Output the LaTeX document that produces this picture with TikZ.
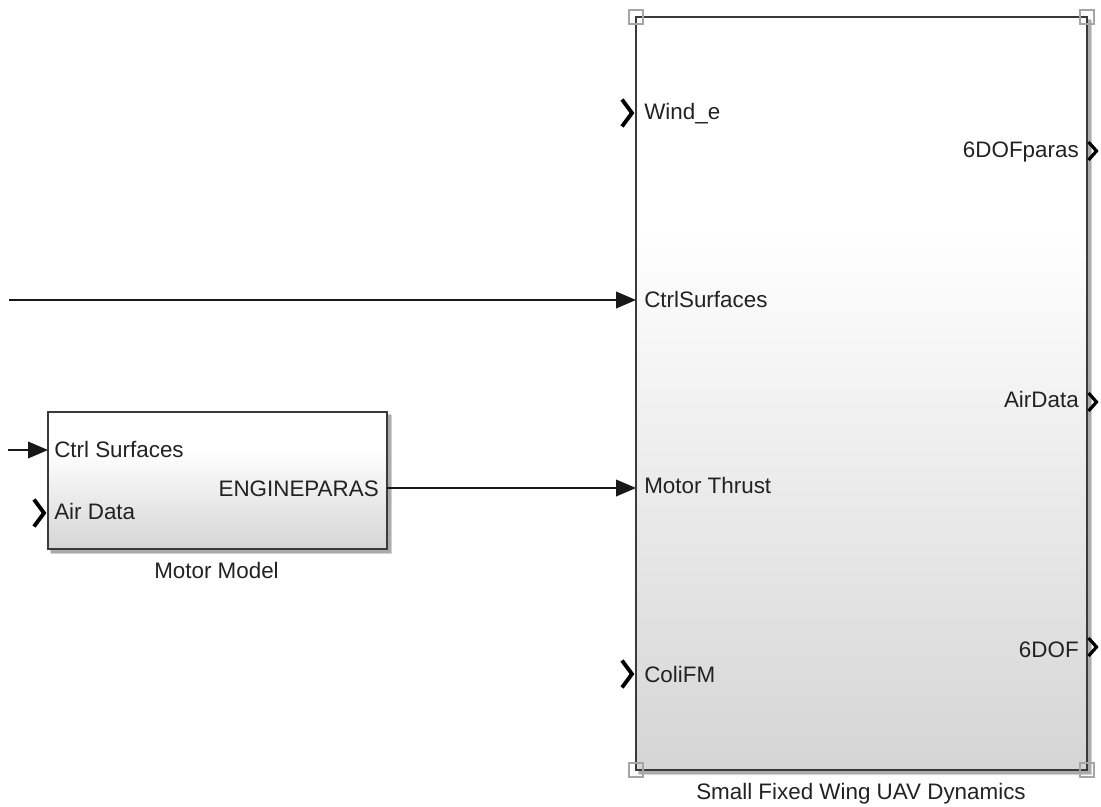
\documentclass[tikz,border=0pt]{standalone}
\usepackage{fontspec}
\setmainfont{Liberation Sans}
\usetikzlibrary{arrows.meta,backgrounds}

\definecolor{blkbot}{RGB}{213,213,213}
\definecolor{labeltext}{RGB}{34,34,34}
\definecolor{blkedge}{RGB}{58,58,58}
\definecolor{wire}{RGB}{24,24,24}
\definecolor{handlegray}{RGB}{165,165,165}

% white upper part, fading to light grey towards the bottom
\pgfdeclareverticalshading{blkshade}{100bp}{color(0bp)=(blkbot); color(25bp)=(blkbot); color(61bp)=(white); color(100bp)=(white)}

\begin{document}
\begin{tikzpicture}[x=0.75pt,y=-0.75pt,
  font=\fontsize{16.8}{19}\selectfont,
  block/.style={draw=blkedge, line width=1.5pt, shading=blkshade, shade,
    anchor=north west, inner sep=0pt, outer sep=0pt},
  portlbl/.style={inner sep=0pt, text=labeltext},
  inlbl/.style={portlbl, anchor=base west},
  outlbl/.style={portlbl, anchor=base east},
  caption/.style={inner sep=0pt, text=labeltext, anchor=base},
  wireline/.style={draw=wire, line width=1.3pt,
    -{Triangle[length=15pt,width=12.5pt]}},
  chevin/.style={draw=black, line width=2.9pt, line join=miter, line cap=butt},
  chevout/.style={draw=black, line width=2.4pt, line join=miter, line cap=butt},
  handle/.style={draw=handlegray, line width=1.1pt},
  shadowfill/.style={fill=black, opacity=0.18}
]
\useasboundingbox (0,0) rectangle (1101,807);

% ---- blocks ----
\node[block, minimum width=338.25pt, minimum height=564.75pt] (uav) at (636,17) {};
\node[block, minimum width=254.25pt, minimum height=102.75pt] (motor) at (48,412) {};

\begin{pgfonlayer}{background}
  \fill[shadowfill] ([shift={(1.5,1.5)}]uav.north west) rectangle ([shift={(3.5,3.5)}]uav.south east);
  \fill[shadowfill] ([shift={(2.5,2.5)}]uav.north west) rectangle ([shift={(5,5)}]uav.south east);
  \fill[shadowfill] ([shift={(1.5,1.5)}]motor.north west) rectangle ([shift={(3.5,3.5)}]motor.south east);
  \fill[shadowfill] ([shift={(2.5,2.5)}]motor.north west) rectangle ([shift={(5,5)}]motor.south east);
\end{pgfonlayer}

% selection handles on the dynamics block
\foreach \c in {north west, north east, south west, south east}
  \draw[handle] ([shift={(-7,-7)}]uav.\c) rectangle ([shift={(7,7)}]uav.\c);

% ---- port coordinates ----
\coordinate (uav-wind)   at (636,113);
\coordinate (uav-ctrl)   at (636,300);
\coordinate (uav-thrust) at (636,488);
\coordinate (uav-coli)   at (636,674);
\coordinate (uav-6dofp)  at (1087,151);
\coordinate (uav-air)    at (1087,402);
\coordinate (uav-6dof)   at (1087,647);
\coordinate (mot-ctrl)   at (48,450);
\coordinate (mot-air)    at (48,513);
\coordinate (mot-out)    at (387,488);
\coordinate (ctrl-src)   at (9,300);
\coordinate (mctrl-src)  at (8,450);

% ---- port labels ----
\node[inlbl] (l-wind)   at (644,119) {Wind\_e};
\node[inlbl] (l-ctrl)   at (644,307) {CtrlSurfaces};
\node[inlbl] (l-thrust) at (644,493) {Motor Thrust};
\node[inlbl] (l-coli)   at (644,682) {ColiFM};
\node[outlbl] (l-6dofp) at (1079,157) {6DOFparas};
\node[outlbl] (l-air)   at (1079,407) {AirData};
\node[outlbl] (l-6dof)  at (1079,657) {6DOF};
\node[inlbl] (l-mctrl)  at (54,457) {Ctrl Surfaces};
\node[inlbl] (l-mair)   at (54,519) {Air Data};
\node[outlbl] (l-mout)  at (379,496) {ENGINEPARAS};

% ---- block captions ----
\node[caption] (cap-motor) at (216.5,578) {Motor Model};
\node[caption] (cap-uav)   at (861,799) {Small Fixed Wing UAV Dynamics};

% ---- unconnected port chevrons ----
\foreach \p in {uav-wind, uav-coli, mot-air}
  \draw[chevin] ([shift={(-14,-13.5)}]\p) -- ([shift={(-4,0)}]\p) -- ([shift={(-14,13.5)}]\p);
\foreach \p in {uav-6dofp, uav-air, uav-6dof}
  \draw[chevout] ([shift={(1.5,-9)}]\p) -- ([shift={(9.5,0)}]\p) -- ([shift={(1.5,9)}]\p);

% ---- signal lines ----
\draw[wireline] (ctrl-src) -- (uav-ctrl);
\draw[wireline] (mot-out) -- (uav-thrust);
\draw[wireline] (mctrl-src) -- (mot-ctrl);

\end{tikzpicture}
\end{document}
